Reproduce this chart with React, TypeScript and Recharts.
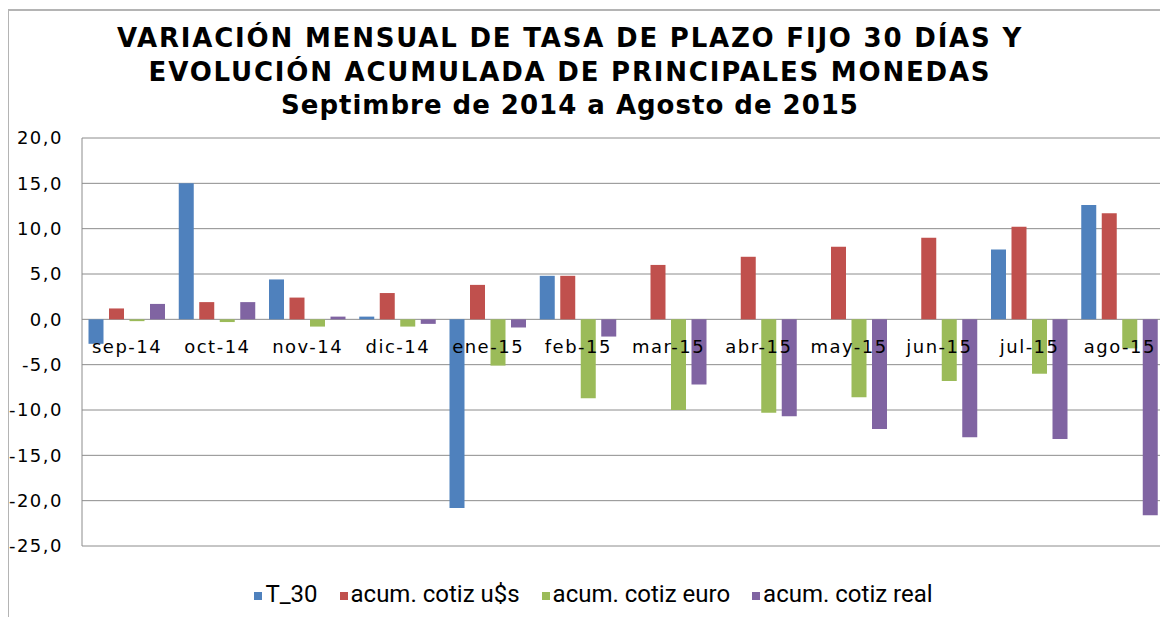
import React from 'react';
import { BarChart, Bar, XAxis, YAxis, CartesianGrid, Legend } from 'recharts';

const meses = ['sep-14', 'oct-14', 'nov-14', 'dic-14', 'ene-15', 'feb-15', 'mar-15', 'abr-15', 'may-15', 'jun-15', 'jul-15', 'ago-15'];
const t30 = [-2.7, 15.0, 4.4, 0.3, -20.8, 4.8, 0, 0, 0, 0, 7.7, 12.6];
const cotizUsd = [1.2, 1.9, 2.4, 2.9, 3.8, 4.8, 6.0, 6.9, 8.0, 9.0, 10.2, 11.7];
const cotizEuro = [-0.2, -0.3, -0.8, -0.8, -5.1, -8.7, -10.0, -10.3, -8.6, -6.8, -6.0, -3.2];
const cotizReal = [1.7, 1.9, 0.3, -0.5, -0.9, -1.9, -7.2, -10.7, -12.1, -13.0, -13.2, -21.6];
const yTicks = [-25, -20, -15, -10, -5, 0, 5, 10, 15, 20];
const seriesNames = ['T_30', 'acum. cotiz u$s', 'acum. cotiz euro', 'acum. cotiz real'];

const data = meses.map((mes, i) => ({
  mes,
  t30: t30[i],
  usd: cotizUsd[i],
  euro: cotizEuro[i],
  real: cotizReal[i],
}));

const W = 1160;
const H = 609;
const MARGIN = { top: 130, right: 3, left: 0, bottom: 40 };
const LEGEND_H = 30;
const XAXIS_H = 1;
const PLOT_H = H - MARGIN.top - MARGIN.bottom - LEGEND_H - XAXIS_H;
// y of the zero line, so month labels sit just under it like the original
const ZERO_Y = MARGIN.top + PLOT_H * (20 / 45);

const tickFont = { fontFamily: 'DejaVu Sans, Verdana, sans-serif', fontSize: 18, letterSpacing: 1.5, fill: '#000' };

const MonthTick = (props: any) => {
  const { x, payload } = props;
  return (
    <text x={x} y={ZERO_Y + 34} textAnchor="middle" style={tickFont as any}>
      {payload.value}
    </text>
  );
};

const fmt = (v: number) => v.toFixed(1).replace('.', ',');

const App = () => {
  return (
    <div style={{ position: 'relative', width: W, height: H, overflow: 'hidden', background: '#fff' }}>
      <div
        style={{
          position: 'absolute',
          left: 0,
          top: 1,
          width: 1400,
          height: 900,
          borderTop: '2px solid #b4b4b4',
          borderLeft: '1px solid #b4b4b4',
        }}
      />
      <div
        style={{
          position: 'absolute',
          left: 0,
          top: 14,
          width: 1124,
          textAlign: 'center',
          fontFamily: 'DejaVu Sans, Verdana, sans-serif',
          fontWeight: 'bold',
          fontSize: 26,
          lineHeight: '33.7px',
          letterSpacing: 1.8,
          color: '#000',
        }}
      >
        <div>VARIACIÓN MENSUAL DE TASA DE PLAZO FIJO 30 DÍAS Y</div>
        <div>EVOLUCIÓN ACUMULADA DE PRINCIPALES MONEDAS</div>
        <div style={{ letterSpacing: 1 }}>Septimbre de 2014 a Agosto de 2015</div>
      </div>
      <div style={{ position: 'absolute', left: 0, top: 0 }}>
        <BarChart width={W} height={H} data={data} margin={MARGIN} barCategoryGap={6.5} barGap={5.5}>
          <CartesianGrid vertical={false} stroke="#8c8c8c" strokeWidth={1} />
          <YAxis
            domain={[-25, 20]}
            ticks={yTicks}
            interval={0}
            width={74}
            tickFormatter={fmt}
            tickLine={false}
            tickSize={0}
            tickMargin={19}
            axisLine={{ stroke: '#8c8c8c' }}
            tick={tickFont}
          />
          <Bar dataKey="t30" name={seriesNames[0]} fill="#4F81BD" isAnimationActive={false} />
          <Bar dataKey="usd" name={seriesNames[1]} fill="#C0504D" isAnimationActive={false} />
          <Bar dataKey="euro" name={seriesNames[2]} fill="#9BBB59" isAnimationActive={false} />
          <Bar dataKey="real" name={seriesNames[3]} fill="#8064A2" isAnimationActive={false} />
          <XAxis dataKey="mes" height={XAXIS_H} axisLine={false} tickLine={false} interval={0} tick={<MonthTick />} />
          <Legend
            verticalAlign="bottom"
            height={LEGEND_H}
            iconType="square"
            iconSize={8}
            itemSorter={(item: any) => seriesNames.indexOf(item.value)}
            wrapperStyle={{ top: 572, left: 18, fontFamily: 'Roboto, sans-serif', fontSize: 24 }}
            formatter={(value) => <span style={{ color: '#000', marginLeft: -1, paddingRight: 12 }}>{value}</span>}
          />
        </BarChart>
      </div>
    </div>
  );
};

export default App;
